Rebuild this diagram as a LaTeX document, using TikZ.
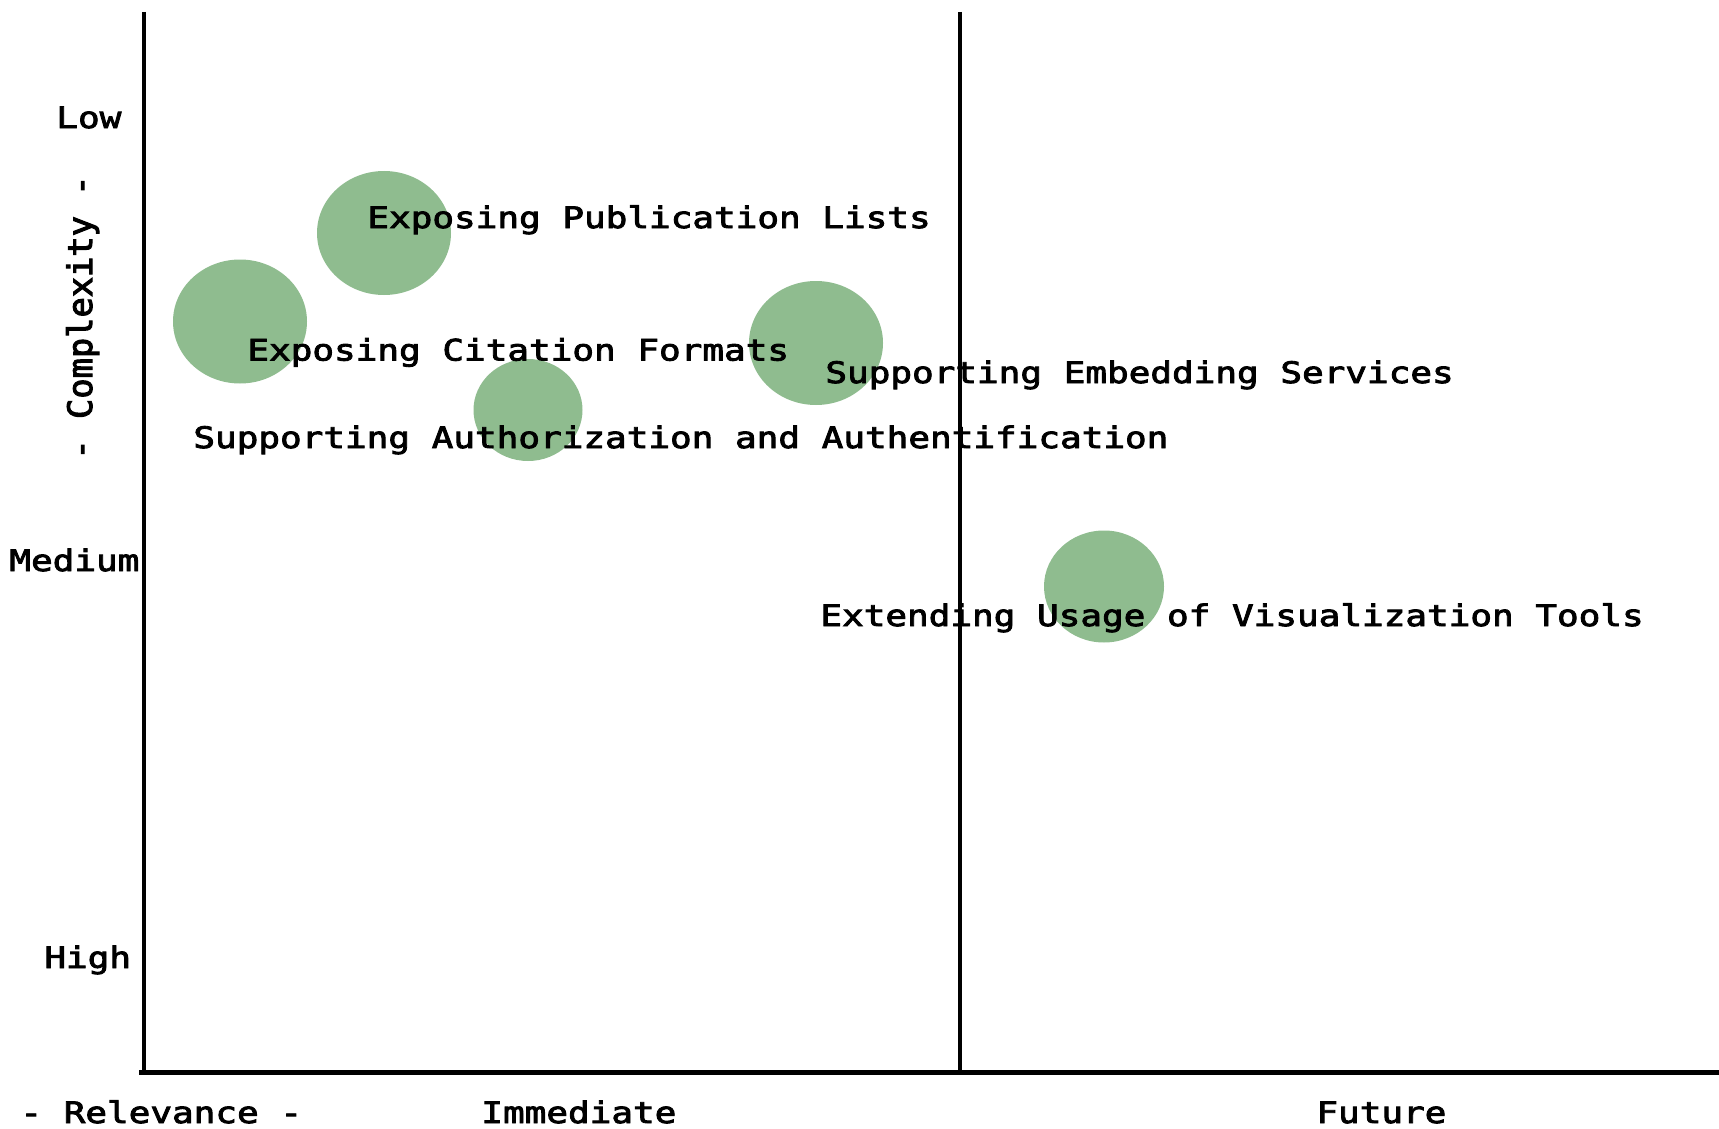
\documentclass[tikz,border=0pt]{standalone}
\usepackage{fontspec}
\usepackage{tikz}
\usetikzlibrary{shapes.geometric}
\newfontfamily\chartfont[FakeStretch=1.22,FakeBold=3]{DejaVu Sans Mono}
\newfontfamily\chartfontv[FakeBold=3]{DejaVu Sans Mono}
\definecolor{bubblegreen}{RGB}{143,188,143}

\begin{document}
\begin{tikzpicture}[x=0.5pt, y=-0.5pt,
  bubble/.style={ellipse, fill=bubblegreen, inner sep=0, minimum width=67pt, minimum height=62pt},
  axis/.style={line width=2.25pt},
  lbl/.style={anchor=base west, inner sep=0, font=\chartfont\fontsize{14.75pt}{17pt}\selectfont}]
\useasboundingbox (0,0) rectangle (1719,1129);
\node [bubble] (b_pub) at (384,233) {};
\node [bubble] (b_cit) at (240,321.5) {};
\node [bubble, minimum width=54.5pt, minimum height=51pt] (b_auth) at (528,410) {};
\node [bubble] (b_emb) at (816,343) {};
\node [bubble, minimum width=60pt, minimum height=56pt] (b_vis) at (1104,586.5) {};
\coordinate (top_l) at (144,12);
\coordinate (orig) at (144,1072.5);
\coordinate (top_m) at (960,12);
\coordinate (bot_m) at (960,1072.5);
\coordinate (end_x) at (1719,1072.5);
\draw [axis] (top_l) -- (orig);
\draw [axis] ([xshift=-2.5pt]orig) -- (end_x);
\draw [axis] (top_m) -- (bot_m);
\node [lbl] (t_pub) at (367,228) {Exposing Publication Lists};
\node [lbl] (t_cit) at (247,360.5) {Exposing Citation Formats};
\node [lbl] (t_auth) at (193,448) {Supporting Authorization and Authentification};
\node [lbl] (t_emb) at (825,383) {Supporting Embedding Services};
\node [lbl] (t_vis) at (820,626) {Extending Usage of Visualization Tools};
\node [lbl] (y_low) at (56,128) {Low};
\node [lbl] (y_med) at (9,571) {Medium};
\node [lbl] (y_high) at (44,968) {High};
\node [anchor=base, inner sep=0, rotate=90, font=\chartfontv\fontsize{16.85pt}{19pt}\selectfont] (y_title) at (92,317.5) {- Complexity -};
\node [lbl] (x_title) at (20,1123) {- Relevance -};
\node [lbl] (x_now) at (481,1123) {Immediate};
\node [lbl] (x_fut) at (1316,1123) {Future};
\end{tikzpicture}
\end{document}
